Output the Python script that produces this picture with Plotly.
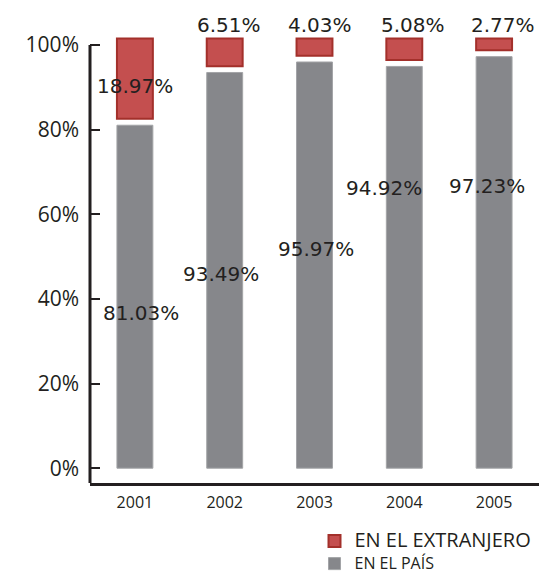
import plotly.graph_objects as go

years = ["2001", "2002", "2003", "2004", "2005"]
en_el_pais = [81.03, 93.49, 95.97, 94.92, 97.23]
en_el_extranjero = [18.97, 6.51, 4.03, 5.08, 2.77]
tick_values = [0, 20, 40, 60, 80, 100]
tick_labels = ["0%", "20%", "40%", "60%", "80%", "100%"]

# label placement: heights in axis units (None = above the plot), pixel nudges
pais_label_y = [36.6, 45.9, 51.8, 66.2, 66.7]
pais_label_dx = [6, -4, 1, -20, -7]
ext_label_y = [90.3, None, None, None, None]
ext_label_dx = [0, 4, 5, 9, 9]

GAP = 1.5  # white space between the two stacked segments
GRAY = "#86878b"
RED = "#c44f4f"
RED_EDGE = "#a3302b"
INK = "#231f20"

fig = go.Figure()
fig.add_trace(go.Bar(
    x=years, y=en_el_extranjero,
    base=[v + GAP for v in en_el_pais],
    name="<span style='font-size:20px'>EN EL EXTRANJERO</span>",
    marker=dict(color=RED, line=dict(color=RED_EDGE, width=2)),
    width=0.4,
))
fig.add_trace(go.Bar(
    x=years, y=en_el_pais,
    name="<span style='font-size:16px'>EN EL PAÍS</span>",
    marker=dict(color=GRAY, line=dict(color="#a3a4a7", width=1)),
    width=0.4,
))

label_font = dict(family="DejaVu Sans", size=20, color=INK)
for i, (v, ly, dx) in enumerate(zip(en_el_pais, pais_label_y, pais_label_dx)):
    fig.add_annotation(x=i, y=ly, text=f"{v:.2f}%", showarrow=False,
                       xshift=dx, font=label_font)
for i, (v, ly, dx) in enumerate(zip(en_el_extranjero, ext_label_y, ext_label_dx)):
    if ly is None:
        fig.add_annotation(x=i, y=1.0, yref="paper", yanchor="bottom", yshift=-11,
                           text=f"{v:.2f}%", showarrow=False, xshift=dx, font=label_font)
    else:
        fig.add_annotation(x=i, y=ly, text=f"{v:.2f}%", showarrow=False,
                           xshift=dx, font=label_font)

# vertical axis line only spans 0–100 %
fig.add_shape(type="line", xref="paper", x0=0, x1=0, yref="y", y0=-3.5, y1=100,
              line=dict(color=INK, width=3))

fig.update_layout(
    width=539, height=573,
    margin=dict(l=90, r=0, t=28, b=90),
    plot_bgcolor="white", paper_bgcolor="white",
    barmode="overlay",
    showlegend=True,
    legend=dict(x=0.5, y=0.084, xref="paper", yref="container",
                xanchor="left", yanchor="top",
                traceorder="normal", font=dict(family="Open Sans", size=15, color=INK),
                itemwidth=30, tracegroupgap=0, bgcolor="rgba(0,0,0,0)"),
    xaxis=dict(
        type="category", categoryorder="array", categoryarray=years,
        range=[-0.5, 4.5], showline=True, linecolor=INK, linewidth=3,
        ticks="", showgrid=False, zeroline=False,
        tickfont=dict(family="Open Sans", size=16, color=INK),
        ticklabelstandoff=3,
    ),
    yaxis=dict(
        range=[-3.5, 104], tickvals=tick_values, ticktext=tick_labels,
        ticks="inside", ticklen=10, tickwidth=2, tickcolor=INK,
        showline=False, showgrid=False, zeroline=False,
        tickfont=dict(family="Open Sans", size=21, color=INK),
        ticklabelstandoff=10,
    ),
)

fig.write_html("out.html")
